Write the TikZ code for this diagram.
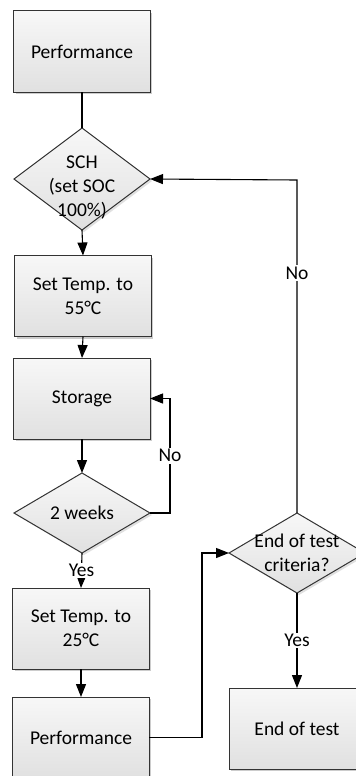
\documentclass[tikz,border=0pt]{standalone}
\usepackage{fontspec}
\setmainfont{Carlito}
\usetikzlibrary{arrows.meta,shapes.geometric,shadows}
\begin{document}
\begin{tikzpicture}[x=1bp,y=-1bp,
  font=\fontsize{19.5bp}{24bp}\selectfont,
  every node/.style={inner sep=0pt, outer sep=0pt},
  boxnode/.style={draw=black!80, line width=1bp, minimum width=136bp, minimum height=81bp,
    align=center, top color=white!97!black, bottom color=white!88!black,
    drop shadow={shadow xshift=2bp, shadow yshift=-2bp, fill=black!40, opacity=0.5}},
  decision/.style={draw=black!80, line width=1bp, diamond, minimum width=136bp, minimum height=102bp,
    top color=white!97!black, bottom color=white!88!black,
    drop shadow={shadow xshift=2bp, shadow yshift=-2bp, fill=black!30, opacity=0.4}},
  decisionsmall/.style={decision, minimum height=80bp},
  dtext/.style={align=center},
  conn/.style={line width=1.1bp, black},
  arr/.style={conn, -{Triangle[length=13bp,width=10bp]}},
  lbl/.style={fill=white, inner sep=1.5bp}
]
\useasboundingbox (0,0) rectangle (355,776);

\node[boxnode] (perf1) at (82,51.5) {Performance};
\node[decision] (sch) at (82,179) {};
\node[dtext] (schtext) at (82,188) {SCH\\(set SOC\\100\%)};
\node[boxnode] (t55) at (83,296) {Set Temp. to\\55°C};
\node[boxnode] (stor) at (82,398.5) {Storage};
\node[decisionsmall] (weeks) at (82,513) {};
\node[dtext] (weekstext) at (82,513) {2 weeks};
\node[boxnode] (t25) at (81,628.5) {Set Temp. to\\25°C};
\node[boxnode] (perf2) at (81,737.5) {Performance};
\node[decisionsmall] (endq) at (297,553) {};
\node[dtext] (endqtext) at (297,553) {End of test\\criteria?};
\node[boxnode] (endt) at (297,728.5) {End of test};

\coordinate (c1) at (170,513);
\coordinate (c2) at (170,398.5);
\coordinate (c3) at (202,737.5);
\coordinate (c4) at (202,553);
\coordinate (c5) at (297,180);

\draw[conn] (perf1.south) -- (sch.north);
\draw[arr] (sch.south) -- (t55.north);
\draw[arr] (t55.south) -- (stor.north);
\draw[arr] (stor.south) -- (weeks.north);
\draw[arr] (weeks.east) -- (c1) -- node[lbl, pos=0.5] (no1) {No} (c2) -- (stor.east);
\draw[arr] (weeks.south) -- node[lbl, pos=0.5] (yes1) {Yes} (t25.north);
\draw[arr] (t25.south) -- (perf2.north);
\draw[arr] (perf2.east) -- (c3) -- (c4) -- (endq.west);
\draw[arr] (endq.south) -- node[lbl, pos=0.5] (yes2) {Yes} (endt.north);
\draw[arr] (endq.north) -- node[lbl, pos=0.72] (no2) {No} (c5) -- (sch.east);
\end{tikzpicture}
\end{document}
